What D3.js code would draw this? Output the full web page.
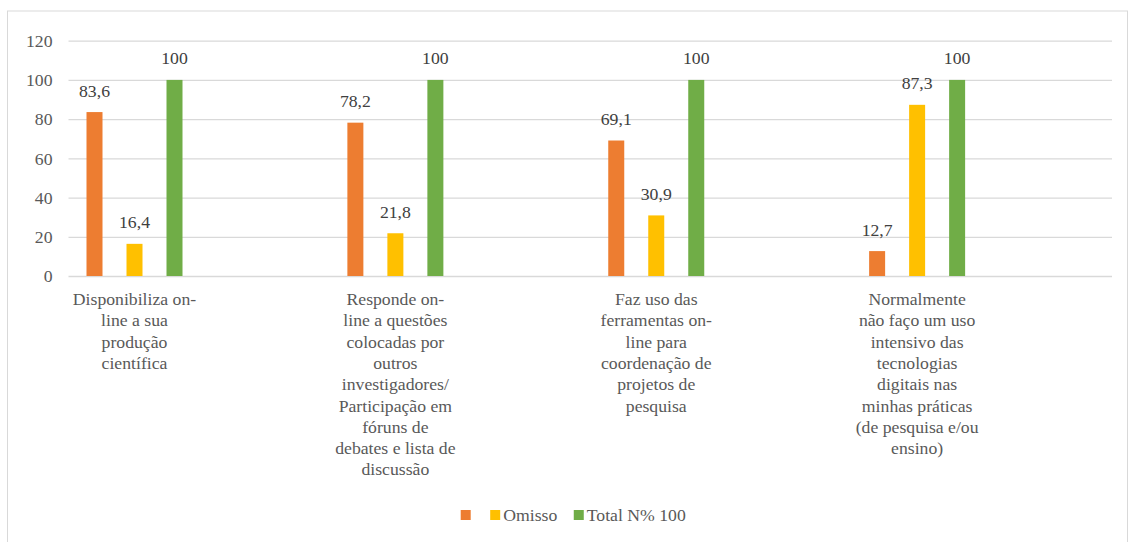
<!DOCTYPE html>
<html>
<head>
<meta charset="utf-8">
<script src="https://cdn.jsdelivr.net/npm/d3@7"></script>
<style>
  body { margin: 0; background: #fff; }
  svg { display: block; }
</style>
</head>
<body>
<svg id="chart" width="1130" height="542"></svg>
<script>
// ---- data ----
const categories = [
  "Disponibiliza on-line a sua produção científica",
  "Responde on-line a questões colocadas por outros investigadores/ Participação em fóruns de debates e lista de discussão",
  "Faz uso das ferramentas on-line para coordenação de projetos de pesquisa",
  "Normalmente não faço um uso intensivo das tecnologias digitais nas minhas práticas (de pesquisa e/ou ensino)"
];
const categoryLines = [
  ["Disponibiliza on-", "line a sua", "produção", "científica"],
  ["Responde on-", "line a questões", "colocadas por", "outros", "investigadores/", "Participação em", "fóruns de", "debates e lista de", "discussão"],
  ["Faz uso das", "ferramentas on-", "line para", "coordenação de", "projetos de", "pesquisa"],
  ["Normalmente", "não faço um uso", "intensivo das", "tecnologias", "digitais nas", "minhas práticas", "(de pesquisa e/ou", "ensino)"]
];
const seriesNames = ["", "Omisso", "Total N% 100"];
const seriesKeys = ["s0", "s1", "s2"];
const valuesS0 = [83.6, 78.2, 69.1, 12.7];
const valuesS1 = [16.4, 21.8, 30.9, 87.3];
const valuesS2 = [100, 100, 100, 100];
const valueLabelsS0 = ["83,6", "78,2", "69,1", "12,7"];
const valueLabelsS1 = ["16,4", "21,8", "30,9", "87,3"];
const valueLabelsS2 = ["100", "100", "100", "100"];
const yTicks = [0, 20, 40, 60, 80, 100, 120];
const colors = ["#ED7D31", "#FFC000", "#70AD47"];

const seriesValues = [valuesS0, valuesS1, valuesS2];
const seriesLabels = [valueLabelsS0, valueLabelsS1, valueLabelsS2];

// ---- layout ----
const FONT = "'Times New Roman', Times, 'Liberation Serif', 'Nimbus Roman', 'Nimbus Roman No9 L', 'Noto Serif', 'DejaVu Serif', FreeSerif, serif";
const svg = d3.select("#chart");
const plotLeft = 68.5, plotRight = 1112, plotTop = 40.7, plotBottom = 276;
const fontSize = "17.7px";

// chart border
svg.append("rect")
  .attr("x", 7.5).attr("y", 11)
  .attr("width", 1120).attr("height", 545)
  .attr("fill", "none").attr("stroke", "#d9d9d9").attr("stroke-width", 1);

const y = d3.scaleLinear().domain([0, 120]).range([plotBottom, plotTop]);
const x = d3.scaleBand().domain(categories).range([plotLeft, plotRight]).padding(0);
const inner = d3.scaleBand().domain(seriesKeys).range([18, 114]).paddingInner(0.6).paddingOuter(0);

// gridlines + tick labels via axis
const yAxis = d3.axisLeft(y)
  .tickValues(yTicks)
  .tickSize(-(plotRight - plotLeft))
  .tickPadding(16)
  .tickFormat(d3.format("d"));

const gAxis = svg.append("g")
  .attr("transform", `translate(${plotLeft},0)`)
  .call(yAxis)
  .attr("font-family", FONT);
gAxis.select(".domain").remove();
gAxis.selectAll(".tick line").attr("stroke", "#d9d9d9").attr("stroke-width", 1.3);
gAxis.selectAll(".tick text")
  .attr("fill", "#595959")
  .style("font-size", fontSize)
  .style("font-family", FONT);

// bars
const rows = [];
categories.forEach((c, i) => {
  seriesKeys.forEach((k, j) => {
    rows.push({ cat: c, key: k, j, value: seriesValues[j][i], label: seriesLabels[j][i] });
  });
});

svg.append("g").selectAll("rect")
  .data(rows)
  .join("rect")
  .attr("x", d => x(d.cat) + inner(d.key))
  .attr("width", inner.bandwidth())
  .attr("y", d => y(d.value))
  .attr("height", d => y(0) - y(d.value))
  .attr("fill", d => colors[d.j]);

// value labels
svg.append("g").selectAll("text")
  .data(rows)
  .join("text")
  .attr("x", d => x(d.cat) + inner(d.key) + inner.bandwidth() / 2)
  .attr("y", d => y(d.value) - 15.5)
  .attr("text-anchor", "middle")
  .attr("fill", "#404040")
  .style("font-size", fontSize)
  .style("font-family", FONT)
  .text(d => d.label);

// category labels
const groupCenter = (inner.range()[0] + inner.range()[1]) / 2;
const catG = svg.append("g");
categories.forEach((c, i) => {
  const t = catG.append("text")
    .attr("text-anchor", "middle")
    .attr("fill", "#595959")
    .style("font-size", fontSize)
    .style("font-family", FONT);
  categoryLines[i].forEach((line, li) => {
    t.append("tspan")
      .attr("x", x(c) + groupCenter)
      .attr("y", 305 + li * 21.3)
      .text(line);
  });
});

// legend
const legend = svg.append("g");
let lx = 460.7;
seriesNames.forEach((name, j) => {
  legend.append("rect")
    .attr("x", lx).attr("y", 510)
    .attr("width", 10).attr("height", 10)
    .attr("fill", colors[j]);
  const t = legend.append("text")
    .attr("x", lx + 13)
    .attr("y", 520.5)
    .attr("fill", "#595959")
    .style("font-size", fontSize)
    .style("font-family", FONT)
    .text(name);
  const w = name ? t.node().getComputedTextLength() : 0;
  lx = lx + 13 + w + 16.5;
});
</script>
</body>
</html>
